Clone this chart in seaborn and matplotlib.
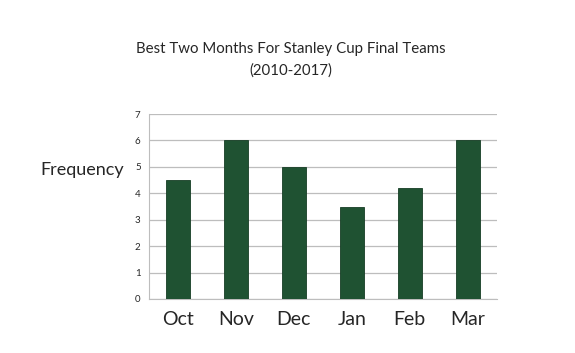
import matplotlib
matplotlib.use("Agg")
import matplotlib.pyplot as plt
import seaborn as sns
import pandas as pd

months = ["Oct", "Nov", "Dec", "Jan", "Feb", "Mar"]
frequency = [4.5, 6, 5, 3.5, 4.2, 6]

sns.set_style("white")
plt.rcParams['font.family'] = ['Lato', 'DejaVu Sans']

df = pd.DataFrame({"month": months, "frequency": frequency})

fig = plt.figure(figsize=(5.75, 3.53), dpi=100)
ax = fig.add_axes([0.259, 0.153, 0.605, 0.524])

sns.barplot(data=df, x="month", y="frequency", color="#1f5232", width=0.42,
            saturation=1, ax=ax, zorder=3)
for p in ax.patches:
    p.set_edgecolor("#163d25")
    p.set_linewidth(0.6)

ax.set_ylim(0, 7)
ax.set_xlim(-0.5, 5.5)
ax.set_yticks(range(0, 8))
ax.yaxis.grid(True, color="#bdbdbd", linewidth=0.9, zorder=0)
for s in ["top", "right"]:
    ax.spines[s].set_visible(False)
ax.spines["left"].set_color("#bdbdbd")
ax.spines["bottom"].set_color("#bdbdbd")
ax.tick_params(axis="y", labelsize=7, length=0, pad=6)
ax.tick_params(axis="x", labelsize=14, length=0, pad=9)
ax.set_xticks([i - 0.5 for i in range(7)], minor=True)
ax.tick_params(axis="x", which="minor", length=3, color="#bdbdbd", direction="out")
ax.set_xlabel("")
ax.set_ylabel("")

fig.text(40 / 575, 1 - 170 / 353, "Frequency", fontsize=13, ha="left", va="center")
fig.text(0.505, 1 - 60 / 353, "Best Two Months For Stanley Cup Final Teams\n(2010-2017)",
         ha="center", va="center", fontsize=10.8, linespacing=1.6)

fig.savefig("out.png", dpi=100)
